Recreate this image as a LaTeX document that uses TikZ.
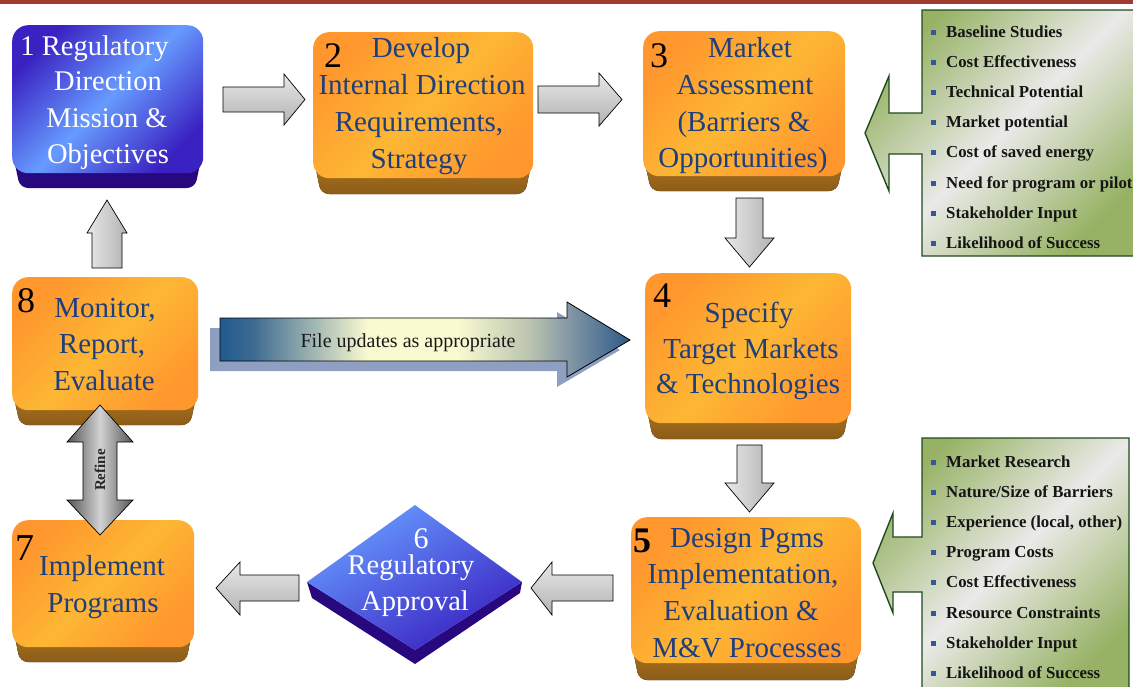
\documentclass[tikz,border=0pt]{standalone}
\usepackage{fontspec}
\setmainfont{Liberation Serif}
\definecolor{oA}{HTML}{FF972E}
\definecolor{oB}{HTML}{FDB734}
\definecolor{oExtT}{HTML}{B07820}
\definecolor{oExtB}{HTML}{8C5C18}
\definecolor{bA}{HTML}{3A22C2}
\definecolor{bB}{HTML}{679BFF}
\definecolor{bExt}{HTML}{28087E}
\definecolor{gA}{HTML}{97B265}
\definecolor{gB}{HTML}{EAEAE8}
\definecolor{gLine}{HTML}{1E4B1E}
\definecolor{boxtxt}{HTML}{1F3E7C}
\definecolor{grL}{HTML}{E8E8E8}
\definecolor{grD}{HTML}{B2B2B2}
\definecolor{grK}{HTML}{555555}
\definecolor{grM}{HTML}{D2D2D2}
\definecolor{topred}{HTML}{A03C2F}
\definecolor{bulletc}{HTML}{34569A}
\definecolor{fD}{HTML}{215A8E}
\definecolor{fY}{HTML}{FAFAD0}
\definecolor{fG}{HTML}{B8C2AE}
\definecolor{fD2}{HTML}{2D5A88}
\definecolor{fDa}{HTML}{3D6A92}
\definecolor{fGb}{HTML}{7E93A4}
\definecolor{shadowc}{HTML}{8E9FC2}
\definecolor{listtxt}{HTML}{151515}
\pgfdeclarehorizontalshading{fileshade}{100bp}{color(0bp)=(fD); color(25bp)=(fD); color(29bp)=(fDa); color(43bp)=(fY); color(54bp)=(fY); color(63bp)=(fG); color(68bp)=(fGb); color(75bp)=(fD2); color(100bp)=(fD2)}
\tikzset{
  oface/.style={rounded corners=16pt, inner sep=0pt, top color=oA, bottom color=oA, middle color=oB, shading angle=45},
  bface/.style={rounded corners=16pt, inner sep=0pt, top color=bA, bottom color=bA, middle color=bB, shading angle=45},
  oext/.style={rounded corners=8pt, top color=oExtT, bottom color=oExtB},
  bext/.style={rounded corners=8pt, fill=bExt},
  btxt/.style={font=\fontsize{29pt}{35pt}\selectfont, text=boxtxt, inner sep=0pt, anchor=base},
  wtxt/.style={font=\fontsize{28.5pt}{35pt}\selectfont, text=white, inner sep=0pt, anchor=base},
  numtxt/.style={font=\fontsize{36pt}{40pt}\selectfont, text=black, inner sep=0pt, anchor=base},
  garrowH/.style={draw=black, line width=0.7pt, top color=grL, bottom color=grD},
  garrowV/.style={draw=black, line width=0.7pt, left color=grL, right color=grD},
  gshape/.style={draw=gLine, line width=1.4pt, top color=gA, bottom color=gA, middle color=gB, shading angle=45},
  litem/.style={font=\fontsize{16.8pt}{20pt}\selectfont\bfseries, text=listtxt, inner sep=0pt, anchor=base west},
}
\begin{document}
\begin{tikzpicture}[x=1pt,y=-1pt]
\useasboundingbox (0,0) rectangle (1133,686);
% top bar
\fill[topred] (0,0) rectangle (1133,3.5);

% ---------- green list shapes ----------
\path[gshape] (1140,10) -- (922,10) -- (922,113) -- (889,113) -- (889,76) -- (865,133) -- (889,191) -- (889,154) -- (922,154) -- (922,256) -- (1140,256) -- cycle;
\path[gshape] (1129,438) -- (922,438) -- (922,537) -- (893,537) -- (893,513) -- (873,563) -- (893,613) -- (893,592) -- (922,592) -- (922,700) -- (1129,700) -- cycle;
\foreach \t [count=\i] in {Baseline Studies, Cost Effectiveness, Technical Potential, Market potential, Cost of saved energy, Need for program or pilot, Stakeholder Input, Likelihood of Success}{
  \node[litem] (u\i) at (946,{37.5+30.1*(\i-1)}) {\t};
  \fill[bulletc] (931,{30+30.1*(\i-1)}) rectangle +(5,5);
}
\foreach \t [count=\i] in {Market Research, Nature/Size of Barriers, {Experience (local, other)}, Program Costs, Cost Effectiveness, Resource Constraints, Stakeholder Input, Likelihood of Success}{
  \node[litem] (l\i) at (946,{467+30.2*(\i-1)}) {\t};
  \fill[bulletc] (931,{459.5+30.2*(\i-1)}) rectangle +(5,5);
}

% ---------- box 1 ----------
\fill[bext] (12,150) -- (203,150) -- (195,188) -- (20,188) -- cycle;
\node[bface, anchor=north west, minimum width=191pt, minimum height=148pt] (b1) at (12,25) {};
\node[wtxt] (t1a) at (94.5,55) {1 Regulatory};
\node[wtxt] (t1b) at (108,90) {Direction};
\node[wtxt] (t1c) at (107,127) {Mission \&};
\node[wtxt] (t1d) at (108,163) {Objectives};

% ---------- box 2 ----------
\fill[oext] (313,155) -- (533,155) -- (525,194) -- (321,194) -- cycle;
\node[oface, anchor=north west, minimum width=220pt, minimum height=146pt] (b2) at (313,32) {};
\node[numtxt] (n2) at (333,67) {2};
\node[btxt] (t2a) at (421,57) {Develop};
\node[btxt] (t2b) at (422,94) {Internal Direction};
\node[btxt] (t2c) at (419,131) {Requirements,};
\node[btxt] (t2d) at (419,168) {Strategy};

% ---------- box 3 ----------
\fill[oext] (643,153) -- (845,153) -- (837,191) -- (651,191) -- cycle;
\node[oface, anchor=north west, minimum width=202pt, minimum height=145pt] (b3) at (643,31) {};
\node[numtxt] (n3) at (659,67) {3};
\node[btxt] (t3a) at (750,57) {Market};
\node[btxt] (t3b) at (745,94) {Assessment};
\node[btxt] (t3c) at (744,131) {(Barriers \&};
\node[btxt] (t3d) at (743,167) {Opportunities)};

% ---------- box 4 ----------
\fill[oext] (645,400) -- (851,400) -- (843,439) -- (653,439) -- cycle;
\node[oface, anchor=north west, minimum width=206pt, minimum height=150pt] (b4) at (645,273) {};
\node[numtxt] (n4) at (662,307) {4};
\node[btxt] (t4a) at (749,322) {Specify};
\node[btxt] (t4b) at (751,358) {Target Markets};
\node[btxt] (t4c) at (748,393) {\& Technologies};

% ---------- box 5 ----------
\fill[oext] (631,640) -- (861,640) -- (853,680) -- (639,680) -- cycle;
\node[oface, anchor=north west, minimum width=230pt, minimum height=146pt] (b5) at (631,517) {};
\node[numtxt, font=\fontsize{36pt}{40pt}\selectfont\bfseries] (n5) at (642,552) {5};
\node[btxt] (t5a) at (747,547) {Design Pgms};
\node[btxt] (t5b) at (743,583) {Implementation,};
\node[btxt] (t5c) at (741,620) {Evaluation \&};
\node[btxt] (t5d) at (747,657) {M\&V Processes};

% ---------- box 8 ----------
\fill[oext] (12,388) -- (198,388) -- (190,425) -- (20,425) -- cycle;
\node[oface, anchor=north west, minimum width=186pt, minimum height=133pt] (b8) at (12,277) {};
\node[numtxt] (n8) at (26,312) {8};
\node[btxt] (t8a) at (105,317) {Monitor,};
\node[btxt] (t8b) at (102,353) {Report,};
\node[btxt] (t8c) at (104,390) {Evaluate};

% ---------- box 7 ----------
\fill[oext] (12,622) -- (194,622) -- (186,662) -- (20,662) -- cycle;
\node[oface, anchor=north west, minimum width=182pt, minimum height=127pt] (b7) at (12,520) {};
\node[numtxt, font=\fontsize{38pt}{40pt}\selectfont] (n7) at (25,560) {7};
\node[btxt] (t7a) at (102,575) {Implement};
\node[btxt] (t7b) at (103,612) {Programs};

% ---------- diamond 6 ----------
\fill[bExt] (307,582) -- (415,650) -- (522,582) -- (520,593) -- (415,664) -- (312,598) -- cycle;
\path[top color=bB, bottom color=bA, shading angle=30] (415,505) -- (522,582) -- (415,650) -- (307,582) -- cycle;
\node[wtxt, font=\fontsize{30pt}{35pt}\selectfont] (n6) at (421,548) {6};
\node[wtxt] (t6a) at (411,574) {Regulatory};
\node[wtxt] (t6b) at (415,610) {Approval};

% ---------- gray block arrows ----------
\path[garrowH] (223,87) -- (284,87) -- (284,74) -- (305,99.5) -- (284,125) -- (284,112) -- (223,112) -- cycle;
\path[garrowH] (538,86) -- (599,86) -- (599,73) -- (622,99.5) -- (599,126) -- (599,113) -- (538,113) -- cycle;
\path[garrowV] (736,198) -- (763,198) -- (763,238) -- (774,238) -- (749.5,267) -- (725,238) -- (736,238) -- cycle;
\path[garrowV] (737,445) -- (762,445) -- (762,483) -- (774,483) -- (749.5,512) -- (725,483) -- (737,483) -- cycle;
\path[garrowH] (613,575) -- (552,575) -- (552,562) -- (531,588) -- (552,615) -- (552,601) -- (613,601) -- cycle;
\path[garrowH] (299,575) -- (240,575) -- (240,562) -- (216,588) -- (240,615) -- (240,601) -- (299,601) -- cycle;
\path[garrowV] (92,268) -- (92,233) -- (87,233) -- (107,200) -- (127,233) -- (122,233) -- (122,268) -- cycle;

% refine double arrow
\path[draw=black, line width=0.7pt, left color=grK, right color=grK, middle color=grM] (100,405) -- (133,442) -- (117,442) -- (117,500) -- (133,500) -- (100,535) -- (67,500) -- (83,500) -- (83,442) -- (67,442) -- cycle;
\node[font=\fontsize{15pt}{17pt}\selectfont\bfseries, text=black!85, rotate=90, inner sep=0pt] (refine) at (100,470) {Refine};

% file updates arrow
\fill[shadowc] (210,328) -- (557,328) -- (557,312) -- (620,350) -- (557,387) -- (557,371) -- (210,371) -- cycle;
\path[draw=black, line width=0.8pt, shading=fileshade] (220,318) -- (567,318) -- (567,302) -- (630,340) -- (567,377) -- (567,361) -- (220,361) -- cycle;
\node[font=\fontsize{20pt}{22pt}\selectfont, text=black!90, inner sep=0pt, anchor=base] (file) at (408,347) {File updates as appropriate};
\end{tikzpicture}
\end{document}
